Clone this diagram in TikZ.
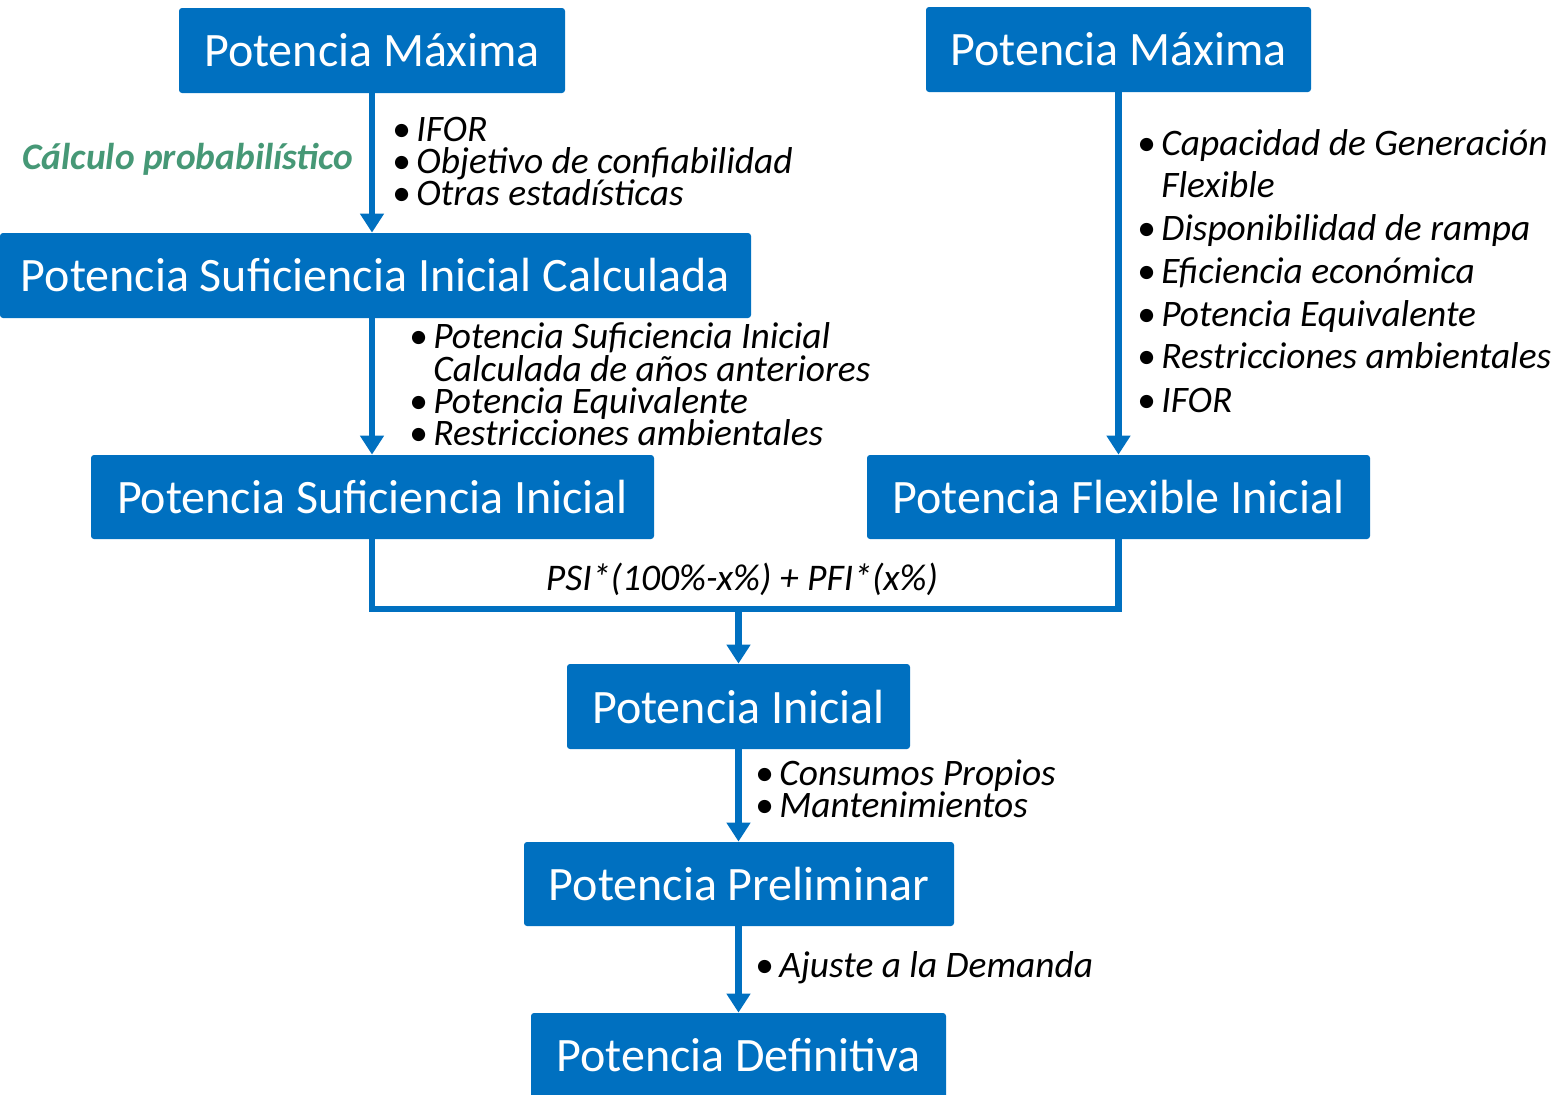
\documentclass[tikz,border=0pt]{standalone}
\usepackage{fontspec}
\setmainfont{Carlito}
\usetikzlibrary{arrows.meta}
\definecolor{boxblue}{HTML}{0070C0}
\definecolor{calcgreen}{RGB}{70,152,118}
\newcommand{\bul}{\makebox[12pt][l]{\upshape\textbullet}}
\begin{document}
\begin{tikzpicture}[x=0.5pt,y=-0.5pt,
  box/.style={fill=boxblue, text=white, rounded corners=1.5pt, inner sep=0pt,
    font=\fontsize{24}{28}\selectfont, minimum height=42.5pt},
  lst/.style={anchor=base west, inner sep=0pt, font=\fontsize{18.7}{22}\selectfont\itshape},
  conn/.style={draw=boxblue, line width=3.2pt, line join=miter},
  arr/.style={conn, -{Triangle[width=11.5pt,length=9.5pt]}}]
\useasboundingbox (0,0) rectangle (1555,1094);

% boxes
\node[box, minimum width=193pt] (pm1) at (372,50.5) {Potencia Máxima};
\node[box, minimum width=192.5pt] (pm2) at (1118.5,49.5) {Potencia Máxima};
\node[box, minimum width=375.5pt] (psic) at (375.5,275.5) {Potencia Suficiencia Inicial Calculada};
\node[box, minimum width=281.5pt, minimum height=42pt] (psi) at (372.5,497) {Potencia Suficiencia Inicial};
\node[box, minimum width=251.5pt, minimum height=42pt] (pfi) at (1118.5,497) {Potencia Flexible Inicial};
\node[box, minimum width=171.5pt] (pi) at (738.5,706.5) {Potencia Inicial};
\node[box, minimum width=215pt, minimum height=42pt] (pp) at (739,884) {Potencia Preliminar};
\node[box, minimum width=207.5pt] (pd) at (738.5,1055.5) {Potencia Definitiva};

% connectors
\draw[arr] (372,93) coordinate (a1) -- (a1 |- psic.north);
\draw[arr] (372,318) coordinate (a2) -- (a2 |- psi.north);
\draw[arr] (pm2.south) -- (pfi.north);
\coordinate (j) at (738.5,609);
\draw[conn] (372,539) coordinate (a3) -- (a3 |- j) -- (pfi.south |- j) -- (pfi.south);
\draw[arr] (j) -- (pi.north);
\draw[arr] (pi.south) -- (pi.south |- pp.north);
\draw[arr] (738.5,926) coordinate (a4) -- (a4 |- pd.north);

% labels
\node[anchor=base west, inner sep=0pt, text=calcgreen, font=\fontsize{18.7}{22}\selectfont\bfseries\itshape] (calc) at (22,169) {Cálculo probabilístico};

\node[lst] (l1a) at (392,141) {\bul IFOR};
\node[lst] (l1b) at (392,173) {\bul Objetivo de confiabilidad};
\node[lst] (l1c) at (392,205) {\bul Otras estadísticas};

\node[lst] (l2a) at (409,348) {\bul Potencia Suficiencia Inicial};
\node[lst] (l2b) at (409,381) {\hspace{12pt}Calculada de años anteriores};
\node[lst] (l2c) at (409,413) {\bul Potencia Equivalente};
\node[lst] (l2d) at (409,445) {\bul Restricciones ambientales};

\node[lst] (r1a) at (1137,155) {\bul Capacidad de Generación};
\node[lst] (r1b) at (1137,197) {\hspace{12pt}Flexible};
\node[lst] (r2) at (1137,240) {\bul Disponibilidad de rampa};
\node[lst] (r3) at (1137,283) {\bul Eficiencia económica};
\node[lst] (r4) at (1137,326) {\bul Potencia Equivalente};
\node[lst] (r5) at (1137,368) {\bul Restricciones ambientales};
\node[lst] (r6) at (1137,412) {\bul IFOR};

\node[anchor=base, inner sep=0pt, font=\fontsize{18.8}{22}\selectfont\itshape] (form) at (742,590) {PSI*(100\%-x\%) + PFI*(x\%)};

\node[lst] (b1) at (755,785) {\bul Consumos Propios};
\node[lst] (b2) at (755,817) {\bul Mantenimientos};
\node[lst] (b3) at (755,977) {\bul Ajuste a la Demanda};
\end{tikzpicture}
\end{document}
